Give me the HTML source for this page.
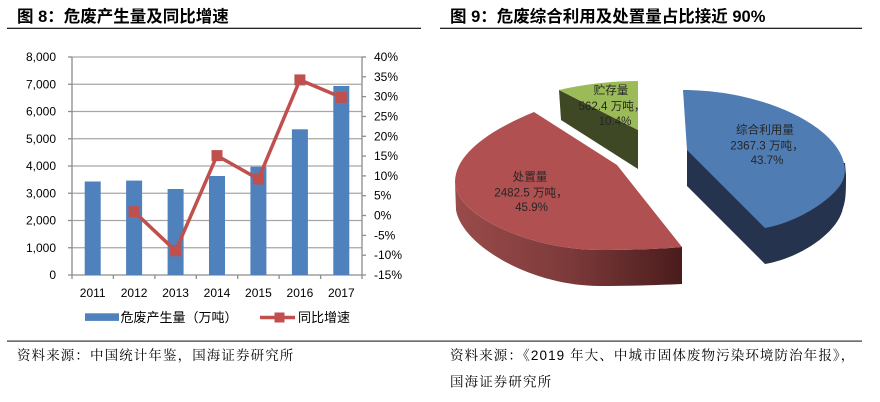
<!DOCTYPE html>
<html>
<head>
<meta charset="utf-8">
<style>
  html,body{margin:0;padding:0;background:#fff;}
  body{width:880px;height:402px;overflow:hidden;}
  svg{display:block;}
  .t{font-family:"Liberation Sans","Noto Sans CJK SC",sans-serif;}
  .s{font-family:"Liberation Sans","Noto Serif CJK SC",serif;}
</style>
</head>
<body>
<svg width="880" height="402" viewBox="0 0 880 402" xmlns="http://www.w3.org/2000/svg">
  <defs>
    <linearGradient id="rs" gradientUnits="userSpaceOnUse" x1="455" y1="0" x2="682" y2="0">
      <stop offset="0" stop-color="#9a4b4b"/>
      <stop offset="0.5" stop-color="#7d3a3a"/>
      <stop offset="1" stop-color="#4a1c1c"/>
    </linearGradient>
  </defs>

  <!-- Titles -->
  <text class="t" x="17" y="22" font-size="16.5" font-weight="bold" fill="#000">图 8：危废产生量及同比增速</text>
  <rect x="7" y="27.7" width="414" height="1.3" fill="#222"/>
  <text class="t" x="450" y="22" font-size="16.5" font-weight="bold" fill="#000">图 9：危废综合利用及处置量占比接近 90%</text>
  <rect x="440" y="27.7" width="422" height="1.3" fill="#222"/>

  <!-- Left chart gridlines -->
  <g stroke="#a6a6a6" stroke-width="1.3">
    <line x1="72" y1="57" x2="362" y2="57"/>
    <line x1="72" y1="84.25" x2="362" y2="84.25"/>
    <line x1="72" y1="111.5" x2="362" y2="111.5"/>
    <line x1="72" y1="138.75" x2="362" y2="138.75"/>
    <line x1="72" y1="166" x2="362" y2="166"/>
    <line x1="72" y1="193.25" x2="362" y2="193.25"/>
    <line x1="72" y1="220.5" x2="362" y2="220.5"/>
    <line x1="72" y1="247.75" x2="362" y2="247.75"/>
  </g>
  <!-- axes -->
  <g stroke="#8c8c8c" stroke-width="1.3">
    <line x1="72" y1="57" x2="72" y2="275"/>
    <line x1="362" y1="57" x2="362" y2="275"/>
    <line x1="68" y1="275" x2="366" y2="275"/>
    <line x1="68" y1="57" x2="72" y2="57"/>
    <line x1="68" y1="84.25" x2="72" y2="84.25"/>
    <line x1="68" y1="111.5" x2="72" y2="111.5"/>
    <line x1="68" y1="138.75" x2="72" y2="138.75"/>
    <line x1="68" y1="166" x2="72" y2="166"/>
    <line x1="68" y1="193.25" x2="72" y2="193.25"/>
    <line x1="68" y1="220.5" x2="72" y2="220.5"/>
    <line x1="68" y1="247.75" x2="72" y2="247.75"/>
    <line x1="362" y1="57" x2="366" y2="57"/>
    <line x1="362" y1="76.8" x2="366" y2="76.8"/>
    <line x1="362" y1="96.6" x2="366" y2="96.6"/>
    <line x1="362" y1="116.5" x2="366" y2="116.5"/>
    <line x1="362" y1="136.3" x2="366" y2="136.3"/>
    <line x1="362" y1="156.1" x2="366" y2="156.1"/>
    <line x1="362" y1="175.9" x2="366" y2="175.9"/>
    <line x1="362" y1="195.7" x2="366" y2="195.7"/>
    <line x1="362" y1="215.5" x2="366" y2="215.5"/>
    <line x1="362" y1="235.4" x2="366" y2="235.4"/>
    <line x1="362" y1="255.2" x2="366" y2="255.2"/>
    <line x1="72" y1="275" x2="72" y2="279"/>
    <line x1="113.4" y1="275" x2="113.4" y2="279"/>
    <line x1="154.9" y1="275" x2="154.9" y2="279"/>
    <line x1="196.3" y1="275" x2="196.3" y2="279"/>
    <line x1="237.7" y1="275" x2="237.7" y2="279"/>
    <line x1="279.1" y1="275" x2="279.1" y2="279"/>
    <line x1="320.6" y1="275" x2="320.6" y2="279"/>
    <line x1="362" y1="275" x2="362" y2="279"/>
  </g>

  <!-- Bars -->
  <g fill="#4f81bd">
    <rect x="84.7" y="181.5" width="16" height="93.5"/>
    <rect x="126.1" y="180.6" width="16" height="94.4"/>
    <rect x="167.6" y="189" width="16" height="86"/>
    <rect x="209" y="176" width="16" height="99"/>
    <rect x="250.4" y="166.7" width="16" height="108.3"/>
    <rect x="291.9" y="129.3" width="16" height="145.7"/>
    <rect x="333.3" y="86" width="16" height="189"/>
  </g>

  <!-- Line -->
  <polyline points="134.1,211.7 175.6,250.8 217,155.6 258.4,179 299.9,79.9 341.3,97.4" fill="none" stroke="#c0504d" stroke-width="3.5" stroke-linejoin="round"/>
  <g fill="#c0504d">
    <rect x="128.6" y="206.2" width="11" height="11"/>
    <rect x="170.1" y="245.3" width="11" height="11"/>
    <rect x="211.5" y="150.1" width="11" height="11"/>
    <rect x="252.9" y="173.5" width="11" height="11"/>
    <rect x="294.4" y="74.4" width="11" height="11"/>
    <rect x="335.8" y="91.9" width="11" height="11"/>
  </g>

  <!-- Left axis labels -->
  <g class="t" font-size="12" fill="#000" text-anchor="end" dominant-baseline="central">
    <text x="56" y="57">8,000</text>
    <text x="56" y="84.25">7,000</text>
    <text x="56" y="111.5">6,000</text>
    <text x="56" y="138.75">5,000</text>
    <text x="56" y="166">4,000</text>
    <text x="56" y="193.25">3,000</text>
    <text x="56" y="220.5">2,000</text>
    <text x="56" y="247.75">1,000</text>
    <text x="56" y="275">0</text>
  </g>
  <!-- Right axis labels -->
  <g class="t" font-size="12" fill="#000" dominant-baseline="central">
    <text x="374" y="57">40%</text>
    <text x="374" y="76.8">35%</text>
    <text x="374" y="96.6">30%</text>
    <text x="374" y="116.5">25%</text>
    <text x="374" y="136.3">20%</text>
    <text x="374" y="156.1">15%</text>
    <text x="374" y="175.9">10%</text>
    <text x="374" y="195.7">5%</text>
    <text x="374" y="215.5">0%</text>
    <text x="374" y="235.4">-5%</text>
    <text x="374" y="255.2">-10%</text>
    <text x="374" y="275">-15%</text>
  </g>
  <!-- X labels -->
  <g class="t" font-size="12" fill="#000" text-anchor="middle" dominant-baseline="central">
    <text x="92.7" y="293">2011</text>
    <text x="134.1" y="293">2012</text>
    <text x="175.6" y="293">2013</text>
    <text x="217" y="293">2014</text>
    <text x="258.4" y="293">2015</text>
    <text x="299.9" y="293">2016</text>
    <text x="341.3" y="293">2017</text>
  </g>

  <!-- Legend -->
  <rect x="85" y="313.3" width="34" height="7.6" fill="#4f81bd"/>
  <text class="t" x="120.5" y="317.5" font-size="13" fill="#000" dominant-baseline="central">危废产生量（万吨）</text>
  <line x1="260" y1="317.5" x2="295" y2="317.5" stroke="#c0504d" stroke-width="3.5"/>
  <rect x="274.5" y="312.5" width="10" height="10" fill="#c0504d"/>
  <text class="t" x="298" y="317.5" font-size="13" fill="#000" dominant-baseline="central">同比增速</text>

  <!-- Pie: red slice -->
  <path d="M455,182 L456,210 C462,245 530,286 600,286 C630,286 660,285 682,284 L682,247 C660,249 630,250 600,250 C530,250 455,215 455,182 Z" fill="url(#rs)"/>
  <path d="M534,112 C495,128 455,152 455,182 C455,215 530,250 600,250 C630,250 660,249 682,247 L617,165 Z" fill="#b05050"/>

  <!-- Pie: green slice -->
  <path d="M559,90 L638,130 L638,169 L561,120 Z" fill="#3e4824"/>
  <path d="M559,90 C585,84 612,81 638,81 L638,130 Z" fill="#9bbb59"/>

  <!-- Pie: blue slice -->
  <path d="M687,150 L687,186 L765,264 C800,258 838,233 843,208 C846,200 846,190 846,175 L845,163 L687,150 Z" fill="#26334f"/>
  <path d="M683,90 C750,90 812,115 835,145 C845,158 846,170 844,177 C840,195 800,222 765,228 L687,150 Z" fill="#4f7db3"/>

  <!-- Pie labels -->
  <g class="t" font-size="11.6" fill="#262626" text-anchor="middle" dominant-baseline="central">
    <text x="611" y="90.5">贮存量</text>
    <text x="612" y="106.5">562.4 万吨，</text>
    <text x="615" y="121.5">10.4%</text>
    <text x="765" y="130">综合利用量</text>
    <text x="767" y="146">2367.3 万吨，</text>
    <text x="767" y="160.5">43.7%</text>
    <text x="530" y="177">处置量</text>
    <text x="531" y="193">2482.5 万吨，</text>
    <text x="531.5" y="207.5">45.9%</text>
  </g>

  <!-- Footer -->
  <rect x="7" y="340.5" width="855" height="1.2" fill="#333"/>
  <g class="s" font-size="13.5" fill="#000" dominant-baseline="central" letter-spacing="1.1">
    <text x="17" y="355.5">资料来源：中国统计年鉴，国海证券研究所</text>
    <text x="450" y="355.5">资料来源：《2019 年大、中城市固体废物污染环境防治年报》，</text>
    <text x="450" y="382">国海证券研究所</text>
  </g>
</svg>
</body>
</html>
